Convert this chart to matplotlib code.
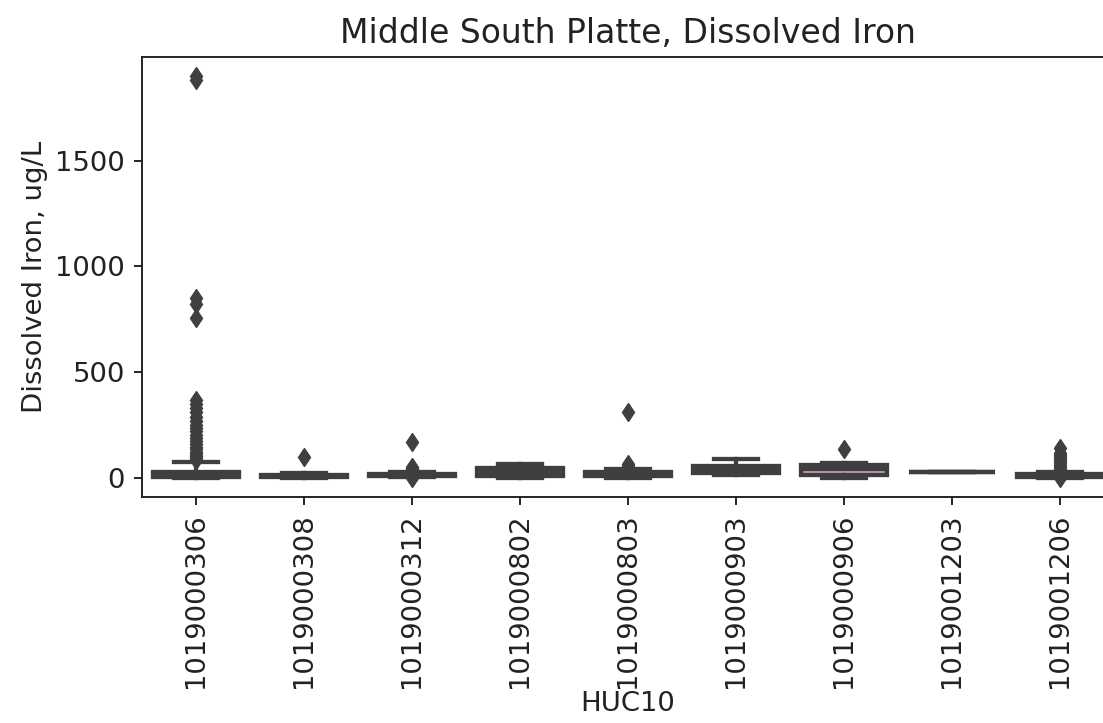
import matplotlib
matplotlib.use("Agg")
import matplotlib.pyplot as plt
import seaborn as sns

# box statistics (ug/L)
huc10 = ["1019000306", "1019000308", "1019000312", "1019000802", "1019000803",
         "1019000903", "1019000906", "1019001203", "1019001206"]
q1 = [4, 3, 10, 10, 8, 25, 12, 28, 3]
med = [12, 8, 14, 28, 18, 40, 40, 28, 10]
q3 = [30, 15, 18, 45, 30, 55, 60, 28, 20]
whislo = [0, 0, 5, 0, 0, 12, 0, 28, 2]
whishi = [76, 25, 28, 68, 40, 90, 70, 28, 28]
fliers = [
    [85, 95, 105, 115, 125, 135, 145, 160, 175, 190, 205, 220, 235, 250, 270,
     290, 310, 330, 350, 370, 755, 820, 850, 1880, 1900],
    [100],
    [0, 35, 40, 45, 50, 170],
    [],
    [45, 55, 65, 310],
    [],
    [138],
    [],
    [0, 30, 40, 50, 60, 70, 80, 90, 100, 110, 120, 140],
]

S = 1.72   # original figure was rendered at ~172 dpi
T = S * 1.15  # text looks a bit bigger in the reference
gray = "#3f3f3f"

stats = []
for i, name in enumerate(huc10):
    stats.append({
        "label": name, "q1": q1[i], "med": med[i], "q3": q3[i],
        "whislo": whislo[i], "whishi": whishi[i], "fliers": fliers[i],
    })

colors = sns.color_palette("deep", len(huc10), desat=0.75)

fig = plt.figure(figsize=(11.03, 7.23), dpi=100)
ax = fig.add_axes([0.1287, 0.3126, 0.8813, 0.6086])

lw = 1.8 * S
bp = ax.bxp(
    stats,
    positions=range(len(huc10)),
    widths=0.8,
    patch_artist=True,
    boxprops={"edgecolor": gray, "linewidth": lw},
    whiskerprops={"color": gray, "linewidth": lw},
    capprops={"color": gray, "linewidth": lw},
    medianprops={"color": gray, "linewidth": lw},
    flierprops={"marker": "d", "markersize": 5.5 * S, "markerfacecolor": gray,
                "markeredgecolor": gray},
)
for patch, c in zip(bp["boxes"], colors):
    patch.set_facecolor(c)

ax.set_xlim(-0.5, len(huc10) - 0.5)
ax.set_ylim(-90, 1990)
ax.set_yticks([0, 500, 1000, 1500])
ax.set_xticks(range(len(huc10)))
ax.set_xticklabels(huc10, rotation=90)
ax.tick_params(labelsize=10 * T, width=0.8 * S, length=3.5 * S, pad=3.5 * S,
               colors="#222222", labelcolor="#222222")
for sp in ax.spines.values():
    sp.set_linewidth(0.8 * S)
    sp.set_color("#222222")

ax.set_title("Middle South Platte, Dissolved Iron", fontsize=12 * T,
             pad=6 * S, color="#222222")
ax.set_xlabel("HUC10", fontsize=10 * T, labelpad=1 * S, color="#222222")
ax.set_ylabel("Dissolved Iron, ug/L", fontsize=10 * T, labelpad=3 * S,
              color="#222222")

fig.savefig("out.png", dpi=100)
